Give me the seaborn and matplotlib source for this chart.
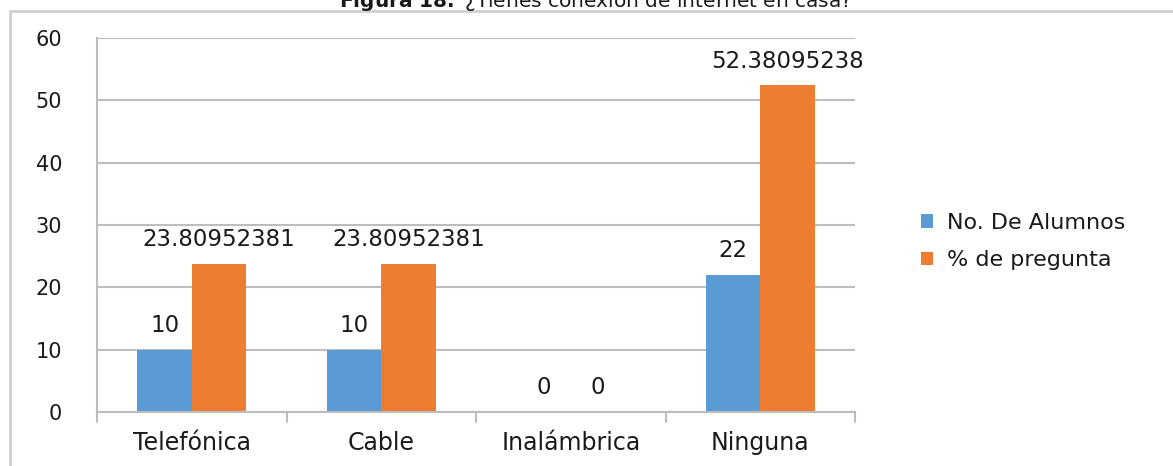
import numpy as np
import pandas as pd
import matplotlib
matplotlib.use("Agg")
import matplotlib.pyplot as plt
import seaborn as sns
from matplotlib.patches import Rectangle

# data
categorias = ['Telefónica', 'Cable', 'Inalámbrica', 'Ninguna']
alumnos = [10, 10, 0, 22]
porcentaje = [23.80952381, 23.80952381, 0, 52.38095238]
series = ['No. De Alumnos', '% de pregunta']
colores = ['#5B9BD5', '#ED7D31']

df = pd.DataFrame({
    'cat': categorias * 2,
    'serie': [series[0]] * 4 + [series[1]] * 4,
    'valor': alumnos + porcentaje,
})

sns.set_style('white')
plt.rcParams['font.family'] = ['DejaVu Sans']

fig = plt.figure(figsize=(11.73, 4.66), dpi=100)
ax = fig.add_axes([97 / 1173, 54 / 466, (855 - 97) / 1173, (412 - 38) / 466])

sns.barplot(data=df, x='cat', y='valor', hue='serie', palette=colores,
            width=0.575, gap=0, saturation=1, linewidth=0, ax=ax, legend=True)

ax.set_ylim(0, 60)
ax.set_xlim(-0.5, 3.5)
ax.set_yticks(range(0, 61, 10))
ax.yaxis.grid(True, color='#BDBDBD', linewidth=1.5)
ax.set_axisbelow(True)
ax.set_xlabel('')
ax.set_ylabel('')

for s in ['top', 'right']:
    ax.spines[s].set_visible(False)
ax.spines['left'].set_color('#BDBDBD')
ax.spines['left'].set_linewidth(1.5)
ax.spines['bottom'].set_color('#BDBDBD')
ax.spines['bottom'].set_linewidth(1.5)

ax.tick_params(axis='y', length=10, color='#BDBDBD', width=1.5, labelsize=15,
               pad=15, labelcolor='#1a1a1a')
ax.tick_params(axis='x', length=0, labelsize=17, pad=14, labelcolor='#1a1a1a')
# x tick marks between categories
for xb in [-0.5, 0.5, 1.5, 2.5, 3.5]:
    ax.plot([xb, xb], [0, -1.6], color='#BDBDBD', lw=1.5, clip_on=False)

# data labels
def fmt(v):
    return str(int(v)) if float(v).is_integer() else f'{v:.8f}'.rstrip('0')

for cont in ax.containers:
    ax.bar_label(cont, labels=[fmt(v) for v in cont.datavalues],
                 padding=9, fontsize=16.5, color='#1a1a1a')

leg = ax.legend(loc='center left', bbox_to_anchor=(1.061, 0.456), frameon=False,
                fontsize=16, handlelength=0.55, handleheight=0.55,
                handletextpad=0.6, labelspacing=0.79, labelcolor='#1a1a1a')

# chart border
fig.patches.append(Rectangle((10 / 1173, -0.2), 1.2, 1.2 - 11 / 466,
                             transform=fig.transFigure, fill=False,
                             edgecolor='#D0D0D0', linewidth=2))

# clipped caption at the top
fig.text(595 / 1173, 1 - 7 / 466, r'$\bf{Figura\ 18.}$ ¿Tienes conexión de internet en casa?',
         ha='center', va='baseline', fontsize=14.5, color='#1a1a1a')

fig.savefig('out.png', dpi=100)
